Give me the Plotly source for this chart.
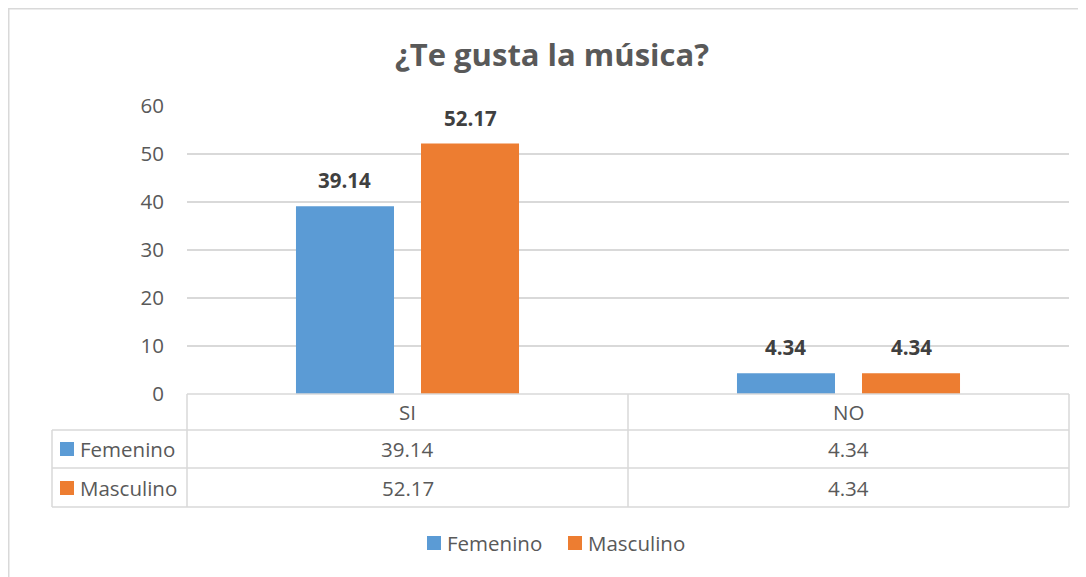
import plotly.graph_objects as go

categories = ["SI", "NO"]
series_names = ["Femenino", "Masculino"]
femenino = [39.14, 4.34]
masculino = [52.17, 4.34]
y_ticks = [0, 10, 20, 30, 40, 50, 60]
title_text = "¿Te gusta la música?"

colors = ["#5B9BD5", "#ED7D31"]
series_values = [femenino, masculino]

OFF = 8  # page body margin
W, H = 1086 - OFF, 577 - OFF
L, R, T, B = 187 - OFF, 17, 106 - OFF, 183
PW = W - L - R
PH = H - T - B
FONT = "Open Sans, Lato, sans-serif"
TXT = "#595959"
GRID = "#D9D9D9"
FS = 20.5


def px(x):
    return (x - OFF - L) / PW


def py(y):
    return (H - B - (y - OFF)) / PH


fig = go.Figure()
for name, vals, col in zip(series_names, series_values, colors):
    fig.add_trace(go.Bar(
        x=categories, y=vals, name=name, marker=dict(color=col, line=dict(width=0)),
        hoverinfo="skip", showlegend=False,
    ))

annotations = []
shapes = []

BARGAP = 0.433
n_cat = len(categories)
n_ser = len(series_names)
for si, vals in enumerate(series_values):
    for ci, v in enumerate(vals):
        slot = (1 - BARGAP) / n_ser
        xoff = (si - (n_ser - 1) / 2) * slot
        annotations.append(dict(
            x=ci + xoff, y=v, xref="x", yref="y", text=f"<b>{v:.2f}</b>",
            showarrow=False, yshift=26, xanchor="center", yanchor="middle",
            font=dict(family=FONT, size=FS, color="#404040"),
        ))

# data table
row_y = [394, 430, 468, 507]
line_style = dict(color=GRID, width=1.5)
shapes.append(dict(type="line", xref="paper", yref="paper", x0=0, x1=1, y0=py(row_y[0]), y1=py(row_y[0]), line=line_style))
for yy in row_y[1:]:
    shapes.append(dict(type="line", xref="paper", yref="paper", x0=px(52), x1=1, y0=py(yy), y1=py(yy), line=line_style))
for k in range(n_cat + 1):
    xp = k / n_cat
    shapes.append(dict(type="line", xref="paper", yref="paper", x0=xp, x1=xp, y0=py(row_y[0]), y1=py(row_y[-1]), line=line_style))
shapes.append(dict(type="line", xref="paper", yref="paper", x0=px(52), x1=px(52), y0=py(row_y[1]), y1=py(row_y[-1]), line=line_style))

for ci, c in enumerate(categories):
    annotations.append(dict(
        x=(ci + 0.5) / n_cat, y=py(412), xref="paper", yref="paper",
        text=c, showarrow=False, xanchor="center", yanchor="middle",
        font=dict(family=FONT, size=FS, color=TXT),
    ))
row_centers = [449, 488]
for si, (name, vals, col) in enumerate(zip(series_names, series_values, colors)):
    yc = row_centers[si]
    shapes.append(dict(type="rect", xref="paper", yref="paper", x0=px(60), x1=px(74),
                       y0=py(yc - 7), y1=py(yc + 7), fillcolor=col, line=dict(width=0)))
    annotations.append(dict(
        x=px(78), y=py(yc), xref="paper", yref="paper", text=name, xanchor="left", yanchor="middle",
        showarrow=False, font=dict(family=FONT, size=FS, color=TXT),
    ))
    for ci, v in enumerate(vals):
        annotations.append(dict(
            x=(ci + 0.5) / n_cat, y=py(yc), xref="paper", yref="paper",
            text=f"{v:.2f}", showarrow=False, xanchor="center", yanchor="middle",
            font=dict(family=FONT, size=FS, color=TXT),
        ))

# manual legend
legend_x = [427, 568]
for name, col, lx in zip(series_names, colors, legend_x):
    shapes.append(dict(type="rect", xref="paper", yref="paper", x0=px(lx), x1=px(lx + 14),
                       y0=py(550), y1=py(536), fillcolor=col, line=dict(width=0)))
    annotations.append(dict(
        x=px(lx + 18), y=py(543), xref="paper", yref="paper", text=name, xanchor="left", yanchor="middle",
        showarrow=False, font=dict(family=FONT, size=FS, color=TXT),
    ))

# outer chart border
shapes.append(dict(type="rect", xref="paper", yref="paper", x0=px(OFF + 0.75), x1=px(1100),
                   y0=py(600), y1=py(OFF + 0.75), line=dict(color=GRID, width=1.5), fillcolor="rgba(0,0,0,0)",
                   layer="below"))

fig.update_layout(
    width=W, height=H,
    margin=dict(l=L, r=R, t=T, b=B),
    paper_bgcolor="white", plot_bgcolor="white",
    barmode="group", bargap=BARGAP, bargroupgap=0.216,
    title=dict(text=f"<b>{title_text}</b>", x=(552 - OFF) / W, xanchor="center",
               y=1 - (55 - OFF) / H, yanchor="middle",
               font=dict(family=FONT, size=31, color=TXT)),
    xaxis=dict(showticklabels=False, showgrid=False, showline=False, ticks="", range=[-0.5, 1.5]),
    yaxis=dict(range=[0, 60], tickvals=y_ticks, showgrid=True, gridcolor=GRID, gridwidth=1.5,
               zeroline=False, showline=False, ticks="", ticklabelstandoff=22,
               tickfont=dict(family=FONT, size=FS, color=TXT)),
    annotations=annotations, shapes=shapes,
    showlegend=False,
)

fig.write_html("out.html")
